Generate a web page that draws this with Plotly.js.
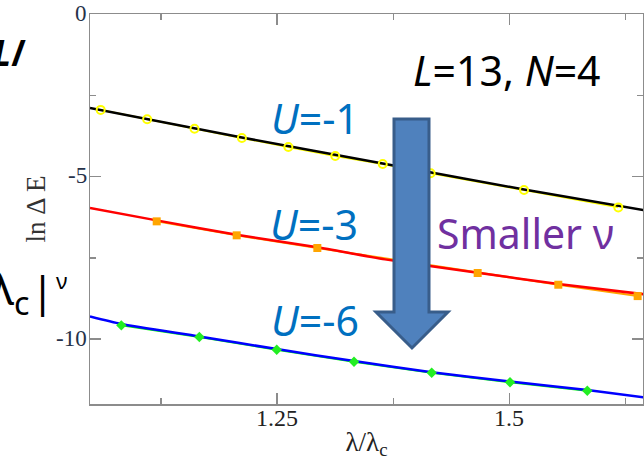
<!DOCTYPE html>
<html>
<head>
<meta charset="utf-8">
<script src="https://cdn.plot.ly/plotly-3.0.1.min.js"></script>
<style>html,body{margin:0;padding:0;background:#fff;}#chart{width:644px;height:464px;}</style>
</head>
<body>
<div id="chart"></div>
<script>
// ---- data ----
const U1_x = [1.060, 1.110, 1.161, 1.212, 1.262, 1.3125, 1.3636, 1.4152, 1.5157, 1.6172];
const U1_y = [-2.95, -3.24, -3.53, -3.815, -4.09, -4.37, -4.615, -4.90, -5.415, -5.95];
const fit1_x = [1.0485, 1.212, 1.3636, 1.5157, 1.644];
const fit1_y = [-2.89, -3.80, -4.60, -5.40, -6.03];

const U3_x = [1.1203, 1.2064, 1.2932, 1.3795, 1.4658, 1.5526, 1.638];
const U3_y = [-6.38, -6.81, -7.20, -7.58, -7.97, -8.33, -8.68];
const fit3_x = [1.0485, 1.1203, 1.2064, 1.2932, 1.366, 1.4658, 1.5526, 1.644];
const fit3_y = [-5.97, -6.35, -6.79, -7.18, -7.55, -7.96, -8.31, -8.62];

const U6_x = [1.0822, 1.1662, 1.2495, 1.3327, 1.4163, 1.5006, 1.5838];
const U6_y = [-9.58, -9.94, -10.33, -10.70, -11.04, -11.33, -11.59];
const fit6_x = [1.0485, 1.0822, 1.1662, 1.2495, 1.3327, 1.4163, 1.5006, 1.5838, 1.644];
const fit6_y = [-9.31, -9.54, -9.92, -10.31, -10.68, -11.02, -11.31, -11.57, -11.79];

const xTickVals = [1.25, 1.5];
const xTickText = ['1.25', '1.5'];
const yTickVals = [0, -5, -10];
const yTickText = ['0', '-5', '-10'];

// ---- layout geometry ----
const W = 644, H = 464, ML = 90, MT = 14, MR = 1, MB = 60;
const PW = W - ML - MR, PH = H - MT - MB;
const xp = px => (px - ML) / PW;
const yp = py => (MT + PH - py) / PH;

const axisGray = '#8c8c8c';

function dataLine(x, y, color) {
  return {x, y, mode: 'lines', type: 'scatter', line: {color, width: 2}, hoverinfo: 'skip', showlegend: false};
}
function fitLine(x, y, color) {
  return {x, y, mode: 'lines', type: 'scatter', line: {color, width: 2.5, shape: 'spline', smoothing: 0.6}, hoverinfo: 'skip', showlegend: false};
}
function marks(x, y, symbol, color, size, lw) {
  return {x, y, mode: 'markers', type: 'scatter', marker: {symbol, color, size, line: {color, width: lw}}, hoverinfo: 'skip', showlegend: false};
}

const traces = [
  dataLine(U1_x, U1_y, '#FFFF00'),
  dataLine(U3_x, U3_y, '#FFA500'),
  dataLine(U6_x, U6_y, '#00FF00'),
  fitLine(fit1_x, fit1_y, '#000000'),
  fitLine(fit3_x, fit3_y, '#FF0000'),
  fitLine(fit6_x, fit6_y, '#0000FF'),
  marks(U1_x, U1_y, 'circle-open', '#FFFF00', 8, 2),
  marks(U3_x, U3_y, 'square', '#FFA500', 8, 0),
  marks(U6_x, U6_y, 'diamond', '#22EE22', 8, 0)
];

// arrow polygon (pixel geometry -> paper)
const arrowPts = [[394,119],[429,119],[429,312],[448,312],[412,348],[376,312],[394,312]];
const arrowPath = 'M ' + arrowPts.map(p => xp(p[0]).toFixed(5) + ',' + yp(p[1]).toFixed(5)).join(' L ') + ' Z';

const annFont = (size, color, family) => ({family: family || 'Noto Sans', size, color});
const ann = (text, px, py, xanchor, size, color) => ({
  text, xref: 'paper', yref: 'paper', x: xp(px), y: yp(py), xanchor, yanchor: 'middle',
  showarrow: false, font: annFont(size, color)
});

// tick labels placed through the axes' own scales
const xTickAnns = xTickVals.map((v, i) => ({
  text: xTickText[i], xref: 'x', yref: 'paper', x: v, y: yp(418), xanchor: 'center', yanchor: 'middle',
  showarrow: false, font: {family: 'Liberation Serif', size: 24, color: '#222222'}
}));
const yTickAnns = yTickVals.map((v, i) => ({
  text: yTickText[i], xref: 'paper', yref: 'y', x: xp(89), y: v, xanchor: 'right', yanchor: 'middle', yshift: 1,
  showarrow: false, font: {family: 'Liberation Serif', size: 23, color: '#26324a'}
}));

const layout = {
  width: W, height: H,
  margin: {l: ML, r: MR, t: MT, b: MB, pad: 0},
  paper_bgcolor: '#ffffff', plot_bgcolor: '#ffffff',
  showlegend: false,
  xaxis: {
    range: [1.0485, 1.0485 + PW / 929],
    tickvals: xTickVals, ticktext: xTickText, showticklabels: false,
    ticks: 'inside', ticklen: 11, tickwidth: 1.5, tickcolor: axisGray,
    minor: {ticks: 'inside', ticklen: 6, tickwidth: 1.5, tickcolor: axisGray, dtick: 0.125, tick0: 0, showgrid: false},
    showline: true, linecolor: axisGray, linewidth: 1.5, mirror: 'ticks',
    showgrid: false, zeroline: false,
    title: {text: 'λ/λ<sub>c</sub>', font: {family: 'Liberation Serif', size: 27, color: '#222222'}, standoff: 27}
  },
  yaxis: {
    range: [-12, 0],
    tickvals: yTickVals, ticktext: yTickText, showticklabels: false,
    ticks: 'inside', ticklen: 11, tickwidth: 1.5, tickcolor: axisGray,
    minor: {ticks: 'inside', ticklen: 6, tickwidth: 1.5, tickcolor: axisGray, dtick: 2.5, tick0: 0, showgrid: false},
    showline: true, linecolor: axisGray, linewidth: 1.5, mirror: 'ticks',
    showgrid: false, zeroline: false,
    title: {text: 'ln Δ E', font: {family: 'Liberation Serif', size: 27, color: '#333333'}, standoff: 35}
  },
  shapes: [
    {type: 'path', xref: 'paper', yref: 'paper', path: arrowPath, fillcolor: '#4F81BD', line: {color: '#385D8A', width: 3}, layer: 'above'}
  ],
  annotations: [
    ann('<i>L</i>=13, <i>N</i>=4', 507, 70, 'center', 41, '#000000'),
    ann('<i>U</i>=-1', 314.5, 118, 'center', 41, '#0070C0'),
    ann('<i>U</i>=-3', 314, 224, 'center', 41, '#0070C0'),
    ann('<i>U</i>=-6', 315, 320, 'center', 41, '#0070C0'),
    ann('Smaller ν', 525, 233, 'center', 41, '#7030A0'),
    ann('<b><i>L</i>/</b>', 28, 53, 'right', 35, '#000000'),
    ann('λ<sub>c</sub>', 31, 290, 'right', 46, '#000000'),
    ann('|', 42.5, 291, 'center', 42, '#000000'),
    ann('ν', 61.5, 280, 'center', 22, '#000000')
  ].concat(xTickAnns, yTickAnns)
};

Plotly.newPlot('chart', traces, layout, {staticPlot: true, displayModeBar: false});
</script>
</body>
</html>
